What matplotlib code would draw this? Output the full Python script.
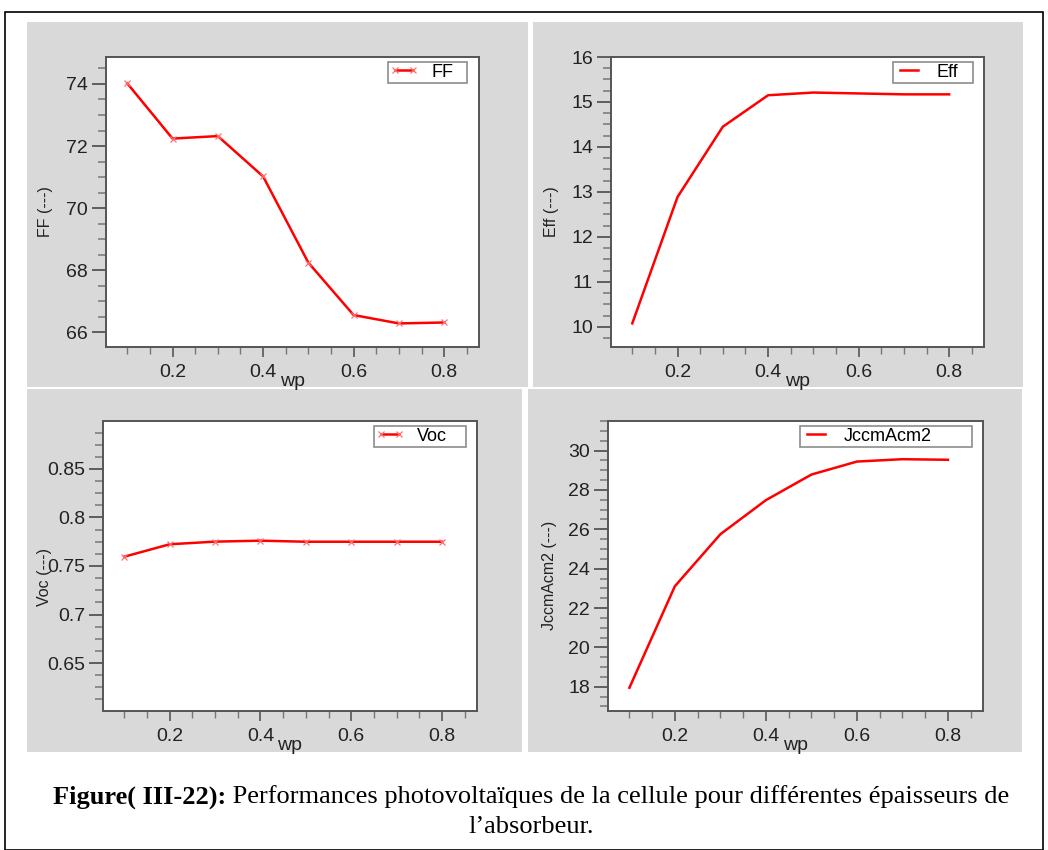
import matplotlib
matplotlib.use("Agg")
import matplotlib.pyplot as plt
from matplotlib.patches import Rectangle
from matplotlib.ticker import MultipleLocator, FormatStrFormatter

# ---- data ----
wp = [0.1, 0.2, 0.3, 0.4, 0.5, 0.6, 0.7, 0.8]
ff = [74.02, 72.24, 72.32, 71.02, 68.24, 66.55, 66.28, 66.31]
eff = [10.08, 12.89, 14.45, 15.15, 15.21, 15.19, 15.17, 15.17]
voc = [0.7596, 0.7724, 0.7751, 0.7761, 0.775, 0.775, 0.775, 0.775]
jsc = [17.95, 23.11, 25.75, 27.48, 28.78, 29.44, 29.56, 29.53]
caption_bold = "Figure( III-22):"
caption_rest = " Performances photovoltaïques de la cellule pour différentes épaisseurs de"
caption_line2 = "l\u2019absorbeur."

W, H = 1048, 850
fig = plt.figure(figsize=(W / 100, H / 100), dpi=100)
fig.patch.set_facecolor("white")
plt.rcParams['font.family'] = ['Liberation Sans', 'DejaVu Sans']

def px_rect(x0, y0, x1, y1):
    return [x0 / W, 1 - y1 / H, (x1 - x0) / W, (y1 - y0) / H]

# outer frame
fig.patches.append(Rectangle((5 / W, 0), (1043 - 5) / W, 1 - 12 / H, transform=fig.transFigure,
                             fill=False, edgecolor="black", linewidth=1.2, zorder=-10))
# grey panels
for (x0, y0, x1, y1) in [(27, 22, 528, 387), (533, 22, 1023, 387),
                         (27, 389, 522, 752), (528, 389, 1022, 752)]:
    fig.patches.append(Rectangle((x0 / W, 1 - y1 / H), (x1 - x0) / W, (y1 - y0) / H,
                                 transform=fig.transFigure, facecolor="#d9d9d9",
                                 edgecolor="none", zorder=-10))

specs = [
    dict(rect=(106, 57, 479, 347), y=ff, ylim=(65.52, 74.87), major=2, minor=0.5, fmt="%g",
         ylabel="FF (---)", leg="FF", marker=True, legbox=(388, 62, 467, 84), ylc=(-0.142, 0.466)),
    dict(rect=(611, 57, 984, 347), y=eff, ylim=(9.555, 16.0), major=1, minor=0.25, fmt="%g",
         ylabel="Eff (---)", leg="Eff", marker=False, legbox=(893, 62, 973, 84), ylc=(-0.139, 0.466)),
    dict(rect=(103, 421, 477, 711), y=voc, ylim=(0.6006, 0.8994), major=0.05, minor=0.0125, fmt="%g",
         ylabel="Voc (---)", leg="Voc", marker=True, legbox=(374, 426, 466, 448), ylc=(-0.136, 0.462)),
    dict(rect=(608, 421, 983, 711), y=jsc, ylim=(16.77, 31.5), major=2, minor=0.5, fmt="%g",
         ylabel="JccmAcm2 (---)", leg="JccmAcm2", marker=False, legbox=(800, 426, 972, 448), ylc=(-0.136, 0.469)),
]

spine_col = "#555555"
for s in specs:
    x0, y0, x1, y1 = s["rect"]
    ax = fig.add_axes(px_rect(x0, y0, x1, y1))
    ax.set_facecolor("white")
    if s["marker"]:
        ax.plot(wp, s["y"], color="#ff0000", lw=1.8, marker="x", ms=5, mew=0.9,
                mec="#ff7070", label=s["leg"])
    else:
        ax.plot(wp, s["y"], color="#ff0000", lw=1.8, label=s["leg"])
    ax.set_xlim(0.053, 0.877)
    ax.set_ylim(*s["ylim"])
    ax.xaxis.set_major_locator(MultipleLocator(0.2))
    ax.xaxis.set_minor_locator(MultipleLocator(0.05))
    ax.yaxis.set_major_locator(MultipleLocator(s["major"]))
    ax.yaxis.set_minor_locator(MultipleLocator(s["minor"]))
    ax.yaxis.set_major_formatter(FormatStrFormatter(s["fmt"]))
    ax.xaxis.set_major_formatter(FormatStrFormatter("%g"))
    for sp in ax.spines.values():
        sp.set_color(spine_col)
        sp.set_linewidth(1.4)
    ax.tick_params(axis="y", which="major", direction="out", length=10, width=1.3,
                   color=spine_col, labelsize=14, labelcolor="#222222", pad=3)
    ax.tick_params(axis="y", which="minor", direction="out", length=6, width=1.1, color="#777777")
    ax.tick_params(axis="x", which="major", direction="out", length=7, width=1.2,
                   color=spine_col, labelsize=14, labelcolor="#222222", pad=5)
    ax.tick_params(axis="x", which="minor", direction="out", length=5, width=1.0, color="#777777")
    ax.set_ylabel(s["ylabel"], fontsize=11.5, color="#222222")
    ax.yaxis.set_label_coords(*s["ylc"])
    ax.set_xlabel("wp", fontsize=14, color="#222222")
    ax.xaxis.set_label_coords(0.5, -0.118)
    ax.xaxis.label.set_va("center")
    lx0, ly0, lx1, ly1 = s["legbox"]
    bx = (lx0 - x0) / (x1 - x0)
    by = (y1 - ly1) / (y1 - y0)
    bw = (lx1 - lx0) / (x1 - x0)
    bh = (ly1 - ly0) / (y1 - y0)
    leg = ax.legend(loc="upper left", bbox_to_anchor=(bx, by, bw, bh), mode="expand",
                    fontsize=13, frameon=True, fancybox=False, numpoints=2,
                    handlelength=1.6, handletextpad=0.7, borderpad=0.1, borderaxespad=0)
    leg.get_frame().set_edgecolor("#707070")
    leg.get_frame().set_linewidth(1.2)

# caption
fs = 19
renderer = fig.canvas.get_renderer()
tb = fig.text(0, 0, caption_bold, fontsize=fs, fontweight="bold", family="Liberation Serif")
tr = fig.text(0, 0, caption_rest, fontsize=fs, family="Liberation Serif")
wb = tb.get_window_extent(renderer).width
wr = tr.get_window_extent(renderer).width
total = wb + wr
cx = 531
start = cx - total / 2
ybase = 1 - 797 / H
tb.set_position((start / W, ybase)); tb.set_va("center")
tr.set_position(((start + wb) / W, ybase)); tr.set_va("center")
fig.text(cx / W, 1 - 827 / H, caption_line2, fontsize=fs, family="Liberation Serif",
         ha="center", va="center")

fig.savefig("out.png", dpi=100)
